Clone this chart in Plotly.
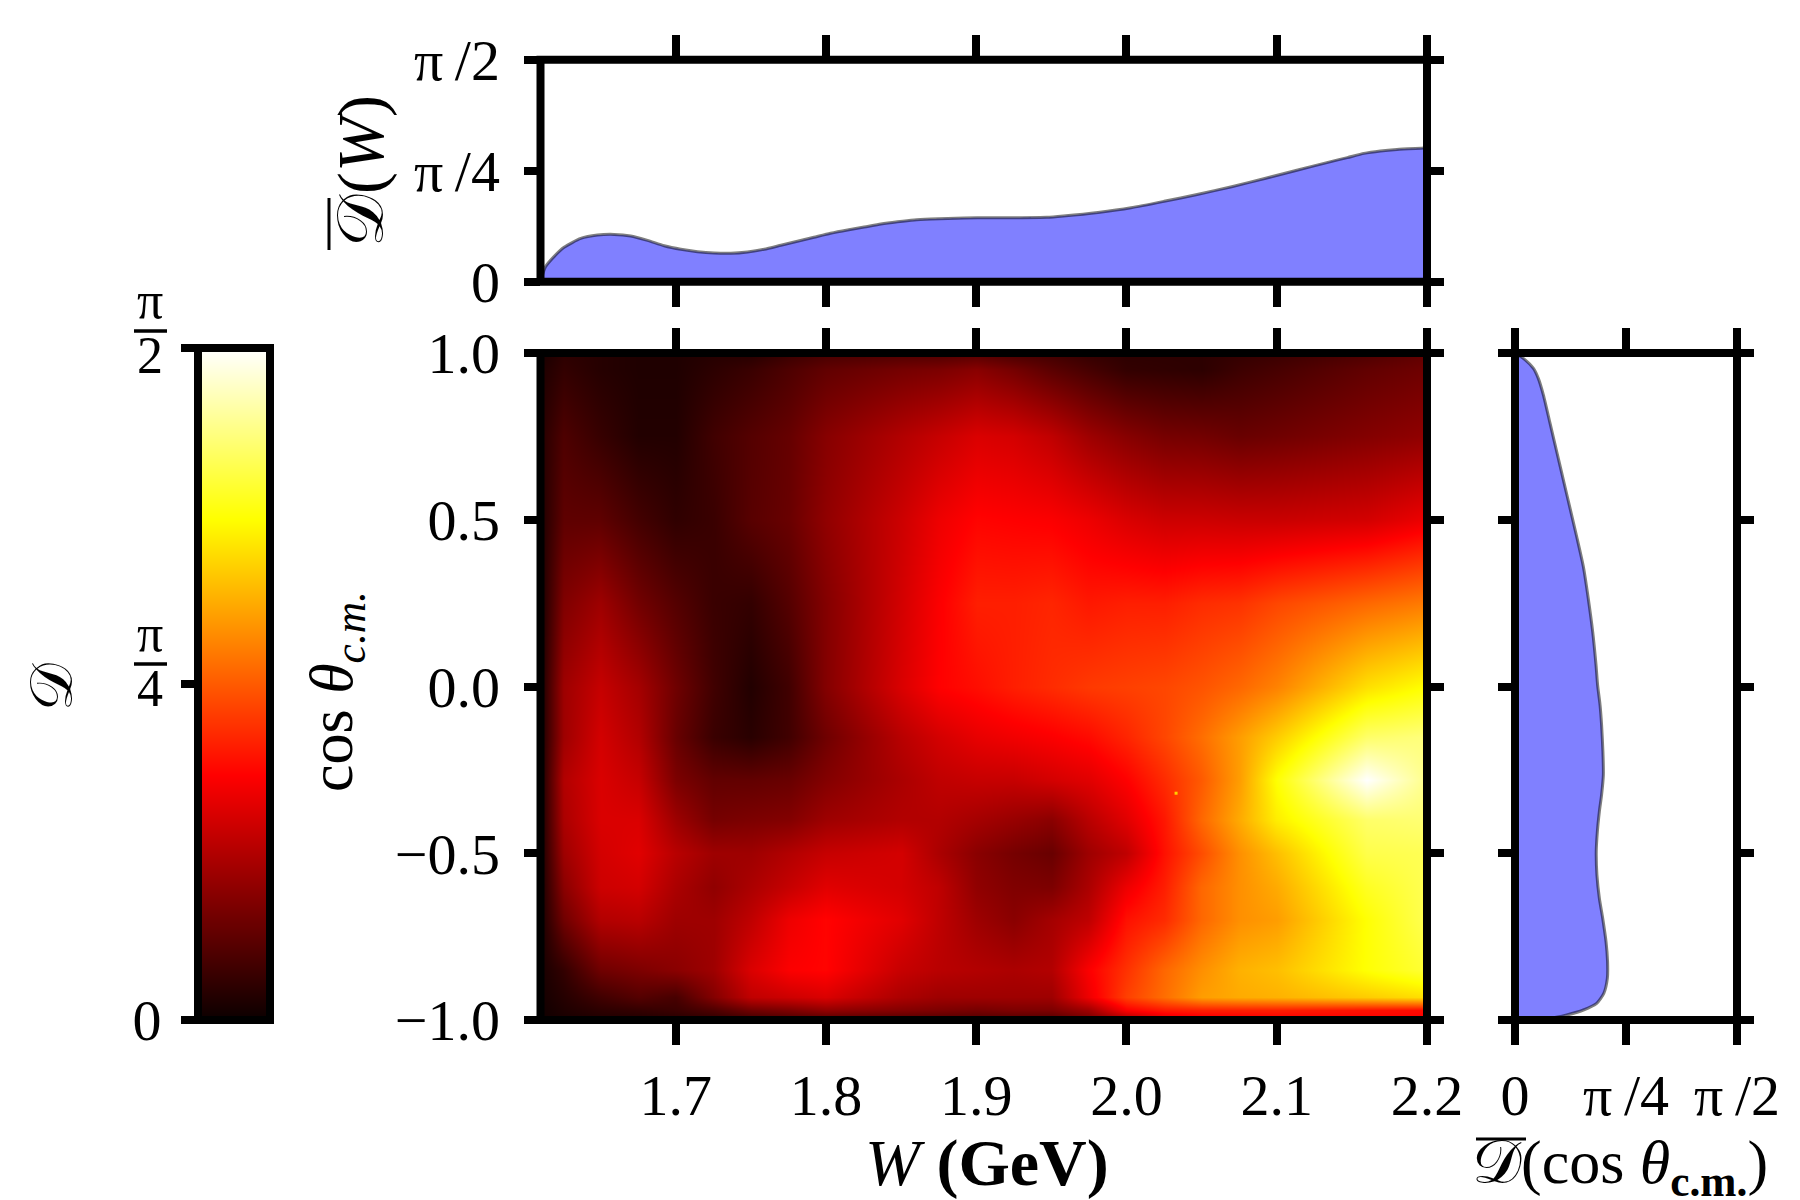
import plotly.graph_objects as go

# --- data (D values in units of pi/2) ---
w_grid = [1.61, 1.625, 1.65, 1.675, 1.70, 1.725, 1.75, 1.775, 1.80, 1.85, 1.875, 1.90, 1.925, 1.95, 1.975, 2.0, 2.025,
          2.05, 2.075, 2.1, 2.16, 2.2]
cos_grid = [-1.0, -0.97, -0.93, -0.85, -0.7, -0.6, -0.5, -0.4, -0.28, -0.15, 0.0, 0.25, 0.5, 0.75, 0.95, 1.0]
d_map = [
    [.01, .02, .03, .03, .04, .05, .07, .09, .10, .10, .10, .10, .10, .10, .15, .22, .30, .33, .34, .35, .36, .36],
    [.01, .03, .05, .06, .07, .10, .15, .17, .20, .18, .17, .16, .17, .17, .22, .36, .40, .41, .41, .41, .39, .38],
    [.015, .04, .08, .11, .09, .18, .27, .29, .31, .24, .22, .22, .22, .22, .34, .46, .53, .60, .62, .63, .67, .70],
    [.02, .06, .15, .17, .19, .22, .31, .36, .37, .28, .26, .25, .24, .25, .36, .44, .52, .58, .63, .65, .75, .80],
    [.02, .15, .25, .26, .22, .22, .27, .34, .37, .32, .27, .22, .19, .23, .27, .39, .43, .52, .58, .60, .75, .83],
    [.02, .19, .29, .30, .24, .20, .24, .28, .32, .30, .27, .20, .175, .17, .24, .34, .41, .52, .58, .62, .78, .83],
    [.02, .22, .30, .32, .26, .22, .22, .25, .28, .30, .24, .19, .16, .14, .22, .27, .39, .48, .58, .65, .82, .83],
    [.02, .24, .31, .31, .22, .16, .17, .18, .22, .25, .25, .23, .21, .19, .26, .32, .40, .52, .62, .72, .85, .86],
    [.02, .25, .31, .28, .17, .13, .13, .14, .18, .24, .27, .28, .28, .30, .32, .365, .43, .50, .60, .75, 1.0, .88],
    [.02, .22, .30, .25, .14, .07, .045, .08, .15, .26, .30, .33, .345, .36, .38, .42, .47, .53, .60, .67, .85, .87],
    [.02, .22, .28, .23, .15, .08, .035, .08, .18, .31, .365, .385, .41, .43, .45, .46, .47, .49, .52, .56, .70, .75],
    [.02, .175, .22, .155, .11, .07, .06, .11, .18, .30, .36, .41, .41, .42, .40, .41, .41, .43, .44, .47, .52, .55],
    [.03, .125, .125, .085, .055, .07, .115, .14, .20, .29, .34, .37, .365, .36, .34, .31, .29, .29, .285, .285, .30, .34],
    [.04, .10, .065, .035, .035, .08, .11, .135, .185, .25, .28, .31, .30, .27, .22, .185, .16, .155, .14, .15, .18, .20],
    [.03, .06, .04, .03, .03, .05, .07, .10, .13, .16, .17, .19, .16, .12, .09, .06, .055, .05, .075, .09, .13, .15],
    [.02, .05, .04, .03, .03, .04, .04, .07, .09, .10, .10, .11, .09, .08, .06, .05, .05, .05, .06, .07, .10, .13],
]
stray_w = [2.033]
stray_cos = [-0.32]

top_w = [1.61, 1.6133, 1.619, 1.6257, 1.6368, 1.6479, 1.659, 1.67, 1.6812, 1.6923, 1.7034, 1.7145, 1.7256, 1.7367,
         1.7478, 1.7589, 1.77, 1.781, 1.792, 1.803, 1.8143, 1.8254, 1.8365, 1.8476, 1.8587, 1.8698, 1.892, 1.91,
         1.925, 1.947, 1.958, 1.981, 2.003, 2.025, 2.047, 2.07, 2.092, 2.114, 2.136, 2.147, 2.158, 2.169, 2.18, 2.198, 2.2]
top_d = [0, .067, .113, .155, .195, .21, .213, .206, .186, .162, .146, .135, .129, .128,
         .134, .146, .164, .182, .2, .218, .233, .246, .26, .27, .278, .282, .287, .288,
         .288, .29, .296, .312, .333, .362, .393, .428, .465, .503, .541, .559, .578, .589, .596, .602, .603]

side_cos = [1, .984, .954, .924, .874, .789, .704, .619, .534, .449, .359, .264, .164, .064, .005, -.055, -.115, -.195,
            -.265, -.325, -.375, -.435, -.495, -.565, -.635, -.695, -.765, -.825, -.875, -.92, -.95, -.97, -.985, -.995, -1]
side_d = [0, .0375, .083, .105, .128, .158, .188, .218, .248, .278, .308, .33, .35, .365, .372, .383, .39, .396,
          .398, .39, .38, .371, .366, .369, .38, .395, .41, .417, .416, .40, .368, .308, .233, .158, 0]

hot_scale = [[0, '#0b0000'], [0.365, '#ff0000'], [0.746, '#ffff00'], [1, '#ffffff']]
bar_levels = [0, 0.25, 0.5, 0.75, 1]

w_ticks = [1.7, 1.8, 1.9, 2.0, 2.1, 2.2]
w_labels = ['1.7', '1.8', '1.9', '2.0', '2.1', '2.2']
cos_ticks = [-1, -0.5, 0, 0.5, 1]
cos_labels = ['\u22121.0', '\u22120.5', '0.0', '0.5', '1.0']
d_ticks = [0, 0.5, 1]
d_labels = ['0', '\u03c0\u2009/4', '\u03c0\u2009/2']

# --- style ---
FONT = 'Liberation Serif'
W, H = 1800, 1200
def fx(a, b): return [a / W, b / W]
def fy(a, b): return [1 - b / H, 1 - a / H]

tickfont = dict(family=FONT, size=58, color='black')
def ax(**kw):
    base = dict(showgrid=False, zeroline=False, showline=False, ticks='outside', ticklen=24, tickwidth=8,
                tickcolor='black', mirror='allticks', tickfont=tickfont, tickmode='array')
    base.update(kw)
    return base
def yax(**kw):
    return ax(ticklen=16, ticklabelstandoff=12, **kw)

CURVE = dict(color='rgba(0,0,0,0.5)', width=3, shape='spline', smoothing=0.6)
fig = go.Figure()
fig.add_trace(go.Heatmap(x=w_grid, y=cos_grid, z=d_map, zmin=0, zmax=1, colorscale=hot_scale, zsmooth='best',
                         showscale=False, xaxis='x', yaxis='y'))
fig.add_trace(go.Scatter(x=stray_w, y=stray_cos, mode='markers', xaxis='x', yaxis='y', showlegend=False,
                         marker=dict(symbol='square', size=3, color='#ffd000')))
fig.add_trace(go.Scatter(x=top_w, y=top_d, mode='lines', fill='tozeroy', fillcolor='#8080ff', xaxis='x2', yaxis='y2',
                         line=CURVE, showlegend=False))
fig.add_trace(go.Scatter(x=side_d, y=side_cos, mode='lines', fill='tozerox', fillcolor='#8080ff', xaxis='x3', yaxis='y3',
                         line=CURVE, showlegend=False))
fig.add_trace(go.Heatmap(x=[0, 1], y=bar_levels, z=[[v, v] for v in bar_levels], zmin=0, zmax=1, colorscale=hot_scale,
                         zsmooth='best', showscale=False, xaxis='x4', yaxis='y4'))

spines = []
for xr, yr in [('x', 'y'), ('x2', 'y2'), ('x3', 'y3'), ('x4', 'y4')]:
    spines.append(dict(type='rect', xref=xr + ' domain', yref=yr + ' domain', x0=0, x1=1, y0=0, y1=1,
                       line=dict(color='black', width=8), layer='above'))

def rule(x0, y0, x1, y1, lw=3.5):
    return dict(type='line', xref='paper', yref='paper', x0=x0 / W, x1=x1 / W, y0=1 - y0 / H, y1=1 - y1 / H,
                line=dict(color='black', width=lw))

# fraction bars next to the colour bar, and the bars over the averaged D in the two titles
spines += [rule(134, 331, 167, 331), rule(134, 664, 167, 664),
           rule(329, 198, 329, 250, 3), rule(1476, 1139, 1526, 1139, 3)]

def txt(x, y, s, size, angle=0, xa='center', ya='middle'):
    return dict(x=x / W, y=1 - y / H, xref='paper', yref='paper', text=s, showarrow=False, textangle=angle,
                xanchor=xa, yanchor=ya, font=dict(family=FONT, size=size, color='black'))

CAL = '\U0001D49F'
annos = [
    txt(150, 331, '\u03c0', 52, ya='bottom'),
    txt(150, 325, '2', 52, ya='top'),
    txt(150, 664, '\u03c0', 52, ya='bottom'),
    txt(150, 658, '4', 52, ya='top'),
    txt(52, 687, CAL, 60, angle=-90),
    txt(335, 692, 'cos <i>\u03b8<sub>c.m.</sub></i>', 62, angle=-90),
    txt(361, 171, CAL + '(<i>W</i>)', 66, angle=-90),
    txt(987, 1163, '<i>W</i> <b>(GeV)</b>', 66),
    txt(1620, 1166, CAL + '(cos <i>\u03b8</i><sub><b>c.m.</b></sub>)', 62),
]

fig.update_layout(
    width=W, height=H, margin=dict(l=0, r=0, t=0, b=0, pad=0, autoexpand=False),
    paper_bgcolor='white', plot_bgcolor='white',
    showlegend=False, shapes=spines, annotations=annos,
    xaxis=ax(domain=fx(540.5, 1427), range=[1.61, 2.2], tickvals=w_ticks, ticktext=w_labels, anchor='y'),
    yaxis=yax(domain=fy(353, 1020), range=[-1, 1], tickvals=cos_ticks, ticktext=cos_labels, anchor='x'),
    xaxis2=ax(domain=fx(540.5, 1427), range=[1.61, 2.2], tickvals=w_ticks, ticktext=[''] * 6, anchor='y2'),
    yaxis2=yax(domain=fy(59.7, 281.7), range=[0, 1], tickvals=d_ticks, ticktext=d_labels, anchor='x2'),
    xaxis3=ax(domain=fx(1515, 1737), range=[0, 1], tickvals=d_ticks, ticktext=d_labels, anchor='y3'),
    yaxis3=yax(domain=fy(353, 1020), range=[-1, 1], tickvals=cos_ticks, ticktext=[''] * 5, anchor='x3'),
    xaxis4=dict(domain=fx(198, 270), range=[0, 1], visible=False, anchor='y4'),
    yaxis4=ax(domain=fy(348, 1020), range=[0, 1], tickvals=d_ticks, ticktext=['0', '', ''], anchor='x4',
              mirror=False, ticklen=16, ticklabelstandoff=8),
)

fig.write_html('out.html', config={'displayModeBar': False},
               post_script="document.body.style.margin='0';document.body.style.overflow='hidden';")
